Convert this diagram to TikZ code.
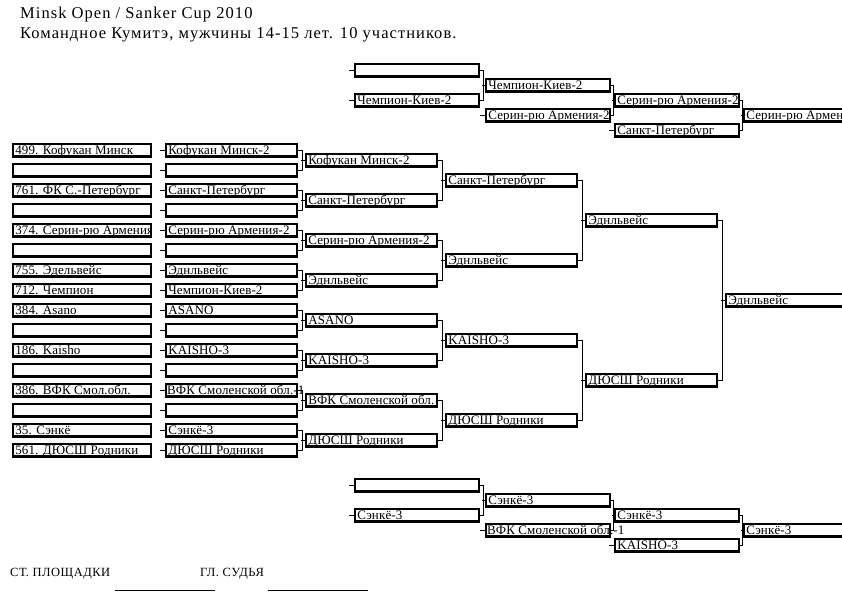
\documentclass[tikz,border=0pt]{standalone}
\usepackage{fontspec}
\setmainfont{Liberation Serif}
\newfontfamily\cellff[LetterSpace=1]{Liberation Serif}
\newfontfamily\footff[LetterSpace=4]{Liberation Serif}
\newfontfamily\titleff[LetterSpace=6.3]{Liberation Serif}
\usetikzlibrary{calc}
\tikzset{
  cell/.style={draw, line width=2.2pt, fill=white, inner sep=0pt, minimum height=12.8pt, anchor=west},
  celltxt/.style={draw=none, fill=none, line width=0.4pt, minimum width=0pt, minimum height=0pt,
    inner sep=0pt, anchor=base west, align=left, font=\cellff\fontsize{13}{15}\selectfont},
  foottxt/.style={inner sep=0pt, anchor=base west, font=\footff\fontsize{12.5}{14}\selectfont},
  titletxt/.style={inner sep=0pt, anchor=base west, font=\titleff\fontsize{16.5}{20}\selectfont},
  thinline/.style={line width=0.8pt}
}
% name, x, cy, width, text (clipped to the box)
\newcommand{\cellbox}[5]{%
  \node[cell, minimum width=#4pt,
    path picture={\node[celltxt] at ([xshift=2pt,yshift=-4.5pt]path picture bounding box.west) {#5};}]
    (#1) at (#2,#3) {};}
% upper, lower, next, half gap
\newcommand{\bracket}[4]{%
  \draw[thinline] (#1.east) -- ++(#4,0) |- (#2.east);
  \draw[thinline] (#3.west) -- ++(-#4,0);}
\newcommand{\tick}[1]{\draw[thinline] (#1.west) -- ++(-5,0);}
\begin{document}
\begin{tikzpicture}[x=1pt,y=-1pt]
\useasboundingbox (0,0) rectangle (842,595);
\clip (0,0) rectangle (842,595);

% titles
\node[titletxt] (t1) at (20,18.5) {Minsk Open / Sanker Cup 2010};
\node[titletxt] (t2) at (20,38) {Командное Кумитэ, мужчины 14-15 лет. 10 участников.};

% column A
\cellbox{a0}{12}{150}{138}{499. Кофукан Минск}
\cellbox{a1}{12}{170}{138}{}
\cellbox{a2}{12}{190}{138}{761. ФК С.-Петербург}
\cellbox{a3}{12}{210}{138}{}
\cellbox{a4}{12}{230}{138}{374. Серин-рю Армения}
\cellbox{a5}{12}{250}{138}{}
\cellbox{a6}{12}{270}{138}{755. Эдельвейс}
\cellbox{a7}{12}{290}{138}{712. Чемпион}
\cellbox{a8}{12}{310}{138}{384. Asano}
\cellbox{a9}{12}{330}{138}{}
\cellbox{a10}{12}{350}{138}{186. Kaisho}
\cellbox{a11}{12}{370}{138}{}
\cellbox{a12}{12}{390}{138}{386. ВФК Смол.обл.}
\cellbox{a13}{12}{410}{138}{}
\cellbox{a14}{12}{430}{138}{35. Сэнкё}
\cellbox{a15}{12}{450}{138}{561. ДЮСШ Родники}

% column B
\cellbox{b0}{165}{150}{131}{Кофукан Минск-2}
\cellbox{b1}{165}{170}{131}{}
\cellbox{b2}{165}{190}{131}{Санкт-Петербург}
\cellbox{b3}{165}{210}{131}{}
\cellbox{b4}{165}{230}{131}{Серин-рю Армения-2}
\cellbox{b5}{165}{250}{131}{}
\cellbox{b6}{165}{270}{131}{Эднльвейс}
\cellbox{b7}{165}{290}{131}{Чемпион-Киев-2}
\cellbox{b8}{165}{310}{131}{ASANO}
\cellbox{b9}{165}{330}{131}{}
\cellbox{b10}{165}{350}{131}{KAISHO-3}
\cellbox{b11}{165}{370}{131}{}
\cellbox{b12}{165}{390}{131}{}
\node[celltxt] (b12t) at ([xshift=2pt,yshift=-4.5pt]b12.west) {ВФК Смоленской обл.-1};
\cellbox{b13}{165}{410}{131}{}
\cellbox{b14}{165}{430}{131}{Сэнкё-3}
\cellbox{b15}{165}{450}{131}{ДЮСШ Родники}
\foreach \i in {0,...,15}{\tick{b\i}}

% column C
\cellbox{c0}{305}{160}{131}{Кофукан Минск-2}
\cellbox{c1}{305}{200}{131}{Санкт-Петербург}
\cellbox{c2}{305}{240}{131}{Серин-рю Армения-2}
\cellbox{c3}{305}{280}{131}{Эднльвейс}
\cellbox{c4}{305}{320}{131}{ASANO}
\cellbox{c5}{305}{360}{131}{KAISHO-3}
\cellbox{c6}{305}{400}{131}{ВФК Смоленской обл.}
\cellbox{c7}{305}{440}{131}{ДЮСШ Родники}

% column D
\cellbox{d0}{445}{180}{131}{Санкт-Петербург}
\cellbox{d1}{445}{260}{131}{Эднльвейс}
\cellbox{d2}{445}{340}{131}{KAISHO-3}
\cellbox{d3}{445}{420}{131}{ДЮСШ Родники}

% column E
\cellbox{e0}{585}{220}{131}{Эднльвейс}
\cellbox{e1}{585}{380}{131}{ДЮСШ Родники}

% column F
\cellbox{f0}{725}{300}{140}{Эднльвейс}

% main brackets
\bracket{b0}{b1}{c0}{4.5}
\bracket{b2}{b3}{c1}{4.5}
\bracket{b4}{b5}{c2}{4.5}
\bracket{b6}{b7}{c3}{4.5}
\bracket{b8}{b9}{c4}{4.5}
\bracket{b10}{b11}{c5}{4.5}
\bracket{b12}{b13}{c6}{4.5}
\bracket{b14}{b15}{c7}{4.5}
\bracket{c0}{c1}{d0}{4.5}
\bracket{c2}{c3}{d1}{4.5}
\bracket{c4}{c5}{d2}{4.5}
\bracket{c6}{c7}{d3}{4.5}
\bracket{d0}{d1}{e0}{4.5}
\bracket{d2}{d3}{e1}{4.5}
\bracket{e0}{e1}{f0}{4.5}

% top repechage
\cellbox{r1a}{354}{70}{124}{}
\cellbox{r1b}{354}{100}{124}{Чемпион-Киев-2}
\cellbox{r2a}{485}{85}{124}{Чемпион-Киев-2}
\cellbox{r2b}{485}{115}{124}{Серин-рю Армения-2}
\cellbox{r3a}{614}{100}{124}{Серин-рю Армения-2}
\cellbox{r3b}{614}{130}{124}{Санкт-Петербург}
\cellbox{r4}{743}{115}{124}{Серин-рю Армения-2}
\tick{r1a}\tick{r1b}\tick{r2b}\tick{r3b}
\bracket{r1a}{r1b}{r2a}{3.5}
\bracket{r2a}{r2b}{r3a}{2.5}
\bracket{r3a}{r3b}{r4}{2.5}

% bottom repechage
\cellbox{s1a}{354}{485}{124}{}
\cellbox{s1b}{354}{515}{124}{Сэнкё-3}
\cellbox{s2a}{485}{500}{124}{Сэнкё-3}
\cellbox{s2b}{485}{530}{124}{}
\node[celltxt] (s2bt) at ([xshift=2pt,yshift=-4.5pt]s2b.west) {ВФК Смоленской обл.-1};
\cellbox{s3a}{614}{515}{124}{Сэнкё-3}
\cellbox{s3b}{614}{545}{124}{KAISHO-3}
\cellbox{s4}{743}{530}{124}{Сэнкё-3}
\tick{s1a}\tick{s1b}\tick{s2b}\tick{s3b}
\bracket{s1a}{s1b}{s2a}{3.5}
\bracket{s2a}{s2b}{s3a}{2.5}
\bracket{s3a}{s3b}{s4}{2.5}

% footer
\node[foottxt] (ft1) at (10,576) {СТ. ПЛОЩАДКИ};
\node[foottxt] (ft2) at (200,576) {ГЛ. СУДЬЯ};
\draw[thinline] (115,590) -- (215,590);
\draw[thinline] (268,590) -- (368,590);
\end{tikzpicture}
\end{document}
